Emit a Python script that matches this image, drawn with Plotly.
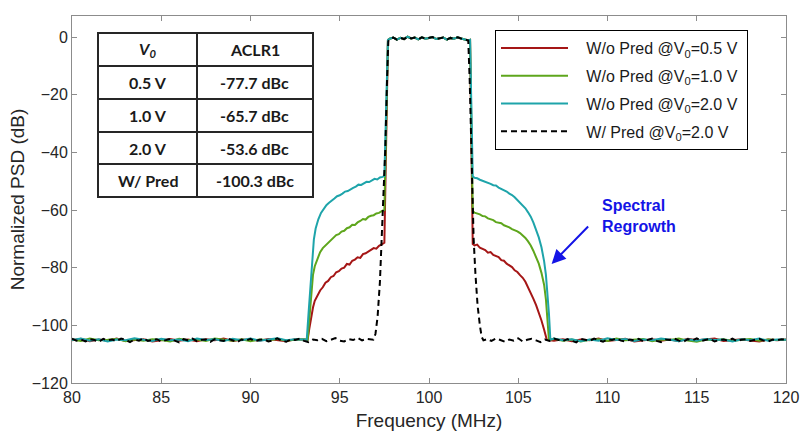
import numpy as np
import plotly.graph_objects as go

# ---------------- data ----------------
# frequency sampling grids (MHz)
F_PRED_FLOOR_L = np.arange(80.0, 96.76, 0.25)      # 68 pts
F_PRED_FLOOR_R = np.arange(103.25, 120.01, 0.25)   # 68 pts
F_BAND = np.arange(97.8, 102.21, 0.2)              # 23 pts
F_FLOOR_L = np.arange(80.0, 93.01, 0.5)            # 27 pts
F_FLOOR_R = np.arange(107.0, 120.01, 0.5)          # 27 pts

# W/ Pred (black dashed)
PRED_FLOOR_L = [-104.6,-105.3,-104.9,-105.6,-104.8,-105.1,-105.7,-104.7,-105.2,-104.9,
                -105.5,-104.6,-105.0,-105.8,-104.9,-105.3,-104.5,-105.4,-105.0,-104.8,
                -105.6,-105.1,-104.7,-105.3,-105.9,-104.8,-105.2,-104.6,-105.5,-105.0,
                -104.9,-105.7,-104.8,-105.2,-105.4,-104.6,-105.1,-105.8,-104.9,-105.3,
                -104.7,-105.5,-105.0,-104.8,-105.6,-105.2,-104.5,-105.3,-105.7,-104.9,
                -105.1,-104.6,-105.4,-105.8,-104.9,-105.2,-104.7,-105.5,-105.0,-104.4,
                -105.3,-105.6,-104.8,-105.1,-104.3,-105.2,-104.7,-104.9]
PRED_EDGE_L_F = [96.88, 97.0, 97.12, 97.25, 97.4, 97.55, 97.65, 97.72]
PRED_EDGE_L = [-105.0, -103.0, -97.0, -85.0, -62.0, -39.0, -15.0, -1.5]
PRED_BAND = [-0.6,-0.2,-0.9,-0.3,-0.7,0.1,-0.5,-0.2,-0.8,-0.1,-0.6,-0.3,
             0.0,-0.7,-0.4,-0.2,-0.9,-0.3,-0.6,-0.1,-0.5,-0.8,-1.2]
PRED_EDGE_R_F = [102.28, 102.38, 102.5, 102.6, 102.72, 102.85, 102.95, 103.05]
PRED_EDGE_R = [-15.0, -39.0, -70.0, -82.0, -93.0, -100.0, -104.0, -105.2]
PRED_FLOOR_R = [-104.8,-105.4,-104.6,-105.1,-105.7,-104.9,-105.3,-104.5,-105.6,-105.0,
                -104.7,-105.2,-105.8,-104.9,-105.4,-104.6,-105.1,-105.5,-104.8,-105.3,
                -105.9,-104.7,-105.0,-105.4,-104.6,-105.2,-105.7,-104.8,-105.1,-104.5,
                -105.3,-105.6,-104.9,-105.2,-104.7,-105.5,-105.0,-104.6,-105.4,-105.8,
                -104.9,-105.1,-104.6,-105.3,-105.7,-104.8,-105.2,-104.5,-105.4,-105.0,
                -104.7,-105.6,-105.1,-104.9,-105.3,-104.6,-105.5,-105.0,-104.8,-105.4,
                -105.1,-104.7,-105.3,-105.6,-104.9,-105.2,-104.8,-105.0]

# W/o Pred @V0=0.5 V (red)
RED_FLOOR_L = [-105.2,-104.7,-105.5,-104.9,-105.3,-104.6,-105.4,-105.0,-104.8,-105.6,
               -105.1,-104.7,-105.3,-104.9,-105.5,-104.8,-105.2,-104.6,-105.4,-105.0,
               -104.9,-105.3,-104.7,-105.1,-105.5,-104.8,-105.1]
RED_SKIRT_L_F = [93.2,93.3,93.4,93.5,93.6,93.75,93.9,94.05,94.2,94.35,94.5,94.65,94.8,94.95,
                 95.1,95.25,95.4,95.55,95.7,95.85,96.0,96.15,96.3,96.45,96.6,96.75,96.9,
                 97.05,97.2,97.35,97.5]
RED_SKIRT_L = [-105.0,-101.0,-96.5,-93.8,-91.5,-89.8,-87.9,-86.8,-85.2,-84.6,-83.3,-82.9,
               -81.6,-81.2,-80.3,-80.0,-78.7,-78.9,-77.6,-77.2,-76.4,-76.6,-75.3,-75.0,
               -74.4,-74.1,-73.2,-73.4,-72.4,-71.9,-71.3]
RED_SKIRT_R_F = [102.45,102.55,102.7,102.85,103.0,103.15,103.3,103.45,103.6,103.75,103.9,
                 104.05,104.2,104.35,104.5,104.65,104.8,104.95,105.1,105.25,105.4,105.55,
                 105.7,105.85,106.0,106.15,106.3,106.45,106.6]
RED_SKIRT_R = [-71.8,-72.3,-72.0,-73.1,-73.6,-73.9,-74.8,-74.6,-75.6,-76.0,-76.3,-77.4,
               -77.6,-78.6,-79.2,-79.8,-80.9,-81.5,-82.6,-83.5,-84.9,-86.7,-88.6,-90.8,
               -93.0,-95.5,-98.3,-101.5,-105.0]
RED_FLOOR_R = [-105.3,-104.8,-105.5,-104.9,-105.2,-104.6,-105.4,-105.0,-104.7,-105.6,
               -105.1,-104.8,-105.3,-104.9,-105.5,-104.7,-105.2,-105.0,-104.6,-105.4,
               -105.1,-104.8,-105.3,-105.6,-104.9,-105.2,-104.9]

# W/o Pred @V0=1.0 V (green)
GRN_FLOOR_L = [-104.9,-105.4,-104.6,-105.2,-105.0,-104.7,-105.5,-104.9,-105.3,-104.8,
               -105.1,-105.6,-104.7,-105.2,-104.9,-105.4,-104.6,-105.0,-105.3,-104.8,
               -105.5,-104.9,-105.2,-104.7,-105.3,-105.0,-104.8]
GRN_SKIRT_L_F = [93.2,93.3,93.4,93.5,93.6,93.75,93.9,94.05,94.2,94.35,94.5,94.65,94.8,94.95,
                 95.1,95.25,95.4,95.55,95.7,95.85,96.0,96.15,96.3,96.45,96.6,96.75,96.9,
                 97.05,97.2,97.35,97.5]
GRN_SKIRT_L = [-105.0,-97.0,-88.0,-82.5,-79.5,-76.8,-74.6,-73.2,-72.3,-71.1,-70.2,-69.6,
               -68.7,-68.4,-67.5,-67.2,-66.3,-66.0,-65.1,-65.2,-64.3,-63.8,-63.1,-63.3,
               -62.4,-62.0,-61.8,-61.2,-61.0,-60.4,-60.0]
GRN_SKIRT_R_F = [102.45,102.55,102.7,102.85,103.0,103.15,103.3,103.45,103.6,103.75,103.9,
                 104.05,104.2,104.35,104.5,104.65,104.8,104.95,105.1,105.25,105.4,105.55,
                 105.7,105.85,106.0,106.15,106.3,106.45,106.55,106.65,106.72]
GRN_SKIRT_R = [-60.3,-60.9,-61.2,-61.5,-62.1,-62.2,-62.9,-63.3,-63.5,-64.2,-64.4,-64.6,
               -65.3,-65.6,-66.0,-66.6,-66.9,-67.4,-68.0,-68.8,-69.7,-70.9,-72.3,-74.2,
               -76.2,-78.6,-81.8,-86.0,-91.0,-98.0,-105.0]
GRN_FLOOR_R = [-104.7,-105.3,-104.9,-105.6,-105.0,-104.8,-105.4,-104.6,-105.2,-105.0,
               -104.7,-105.5,-104.9,-105.1,-104.6,-105.3,-105.7,-104.9,-105.2,-104.8,
               -105.4,-105.0,-104.7,-105.3,-104.9,-105.1,-105.0]

# W/o Pred @V0=2.0 V (cyan)
CYN_FLOOR_L = [-105.1,-104.6,-105.3,-104.8,-105.6,-104.9,-105.2,-104.5,-105.0,-105.4,
               -104.7,-105.2,-104.9,-105.5,-104.6,-105.1,-104.8,-105.4,-104.7,-105.2,
               -104.6,-105.3,-104.9,-104.5,-105.2,-104.8,-104.9]
CYN_SKIRT_L_F = [93.15,93.25,93.35,93.45,93.55,93.65,93.8,93.95,94.1,94.25,94.4,94.55,94.7,
                 94.85,95.0,95.15,95.3,95.45,95.6,95.75,95.9,96.05,96.2,96.35,96.5,96.65,
                 96.8,96.95,97.1,97.25,97.4,97.5]
CYN_SKIRT_L = [-105.0,-96.0,-86.0,-76.5,-70.2,-66.4,-63.2,-61.0,-59.6,-58.3,-57.5,-56.6,
               -56.0,-55.2,-54.9,-54.3,-53.6,-53.4,-52.7,-52.3,-51.9,-51.2,-51.3,-50.6,
               -50.2,-50.3,-49.6,-49.2,-49.4,-48.7,-48.5,-48.2]
CYN_SKIRT_R_F = [102.45,102.55,102.7,102.85,103.0,103.15,103.3,103.45,103.6,103.75,103.9,
                 104.05,104.2,104.35,104.5,104.65,104.8,104.95,105.1,105.25,105.4,105.55,
                 105.7,105.85,106.0,106.15,106.3,106.45,106.55,106.65,106.72,106.8]
CYN_SKIRT_R = [-48.3,-48.8,-49.0,-49.5,-49.8,-50.3,-50.5,-50.9,-51.4,-51.5,-52.2,-52.6,
               -53.0,-53.6,-54.3,-54.8,-55.6,-56.5,-57.3,-58.3,-59.4,-60.8,-62.3,-64.4,
               -66.8,-69.5,-72.9,-77.8,-82.5,-89.0,-96.0,-105.0]
CYN_FLOOR_R = [-104.6,-105.2,-104.8,-105.5,-104.9,-105.3,-104.5,-105.1,-104.7,-105.4,
               -104.9,-105.2,-104.6,-105.0,-105.5,-104.8,-105.3,-104.7,-105.1,-104.9,
               -105.6,-104.8,-105.2,-104.6,-105.3,-104.9,-105.0]

SERIES_NAMES = ["W/o Pred @V<sub>0</sub>=0.5 V", "W/o Pred @V<sub>0</sub>=1.0 V",
                "W/o Pred @V<sub>0</sub>=2.0 V", "W/ Pred @V<sub>0</sub>=2.0 V"]
SERIES_COLORS = ["#a51616", "#5ea61c", "#1ea4aa", "#000000"]

TABLE_HEAD = ["<i>V</i><sub><i>0</i></sub>", "ACLR1"]
TABLE_V = ["0.5 V", "1.0 V", "2.0 V", "W/ Pred"]
TABLE_ACLR = ["-77.7 dBc", "-65.7 dBc", "-53.6 dBc", "-100.3 dBc"]

X_TICKS = [80, 85, 90, 95, 100, 105, 110, 115, 120]
Y_TICKS = [-120, -100, -80, -60, -40, -20, 0]


def colored(fl, skl_f, skl, skr_f, skr, fr):
    f = list(F_FLOOR_L) + skl_f + [97.7] + list(F_BAND) + [102.3] + skr_f + list(F_FLOOR_R)
    p = fl + skl + [-1.0] + PRED_BAND + [-1.0] + skr + fr
    return f, p


def legend_label(name):
    # small padding around the label so the text sits like the reference legend
    return "&nbsp;&nbsp;&nbsp;" + name + "&nbsp;"


fig = go.Figure()
col_series = [
    colored(RED_FLOOR_L, RED_SKIRT_L_F, RED_SKIRT_L, RED_SKIRT_R_F, RED_SKIRT_R, RED_FLOOR_R),
    colored(GRN_FLOOR_L, GRN_SKIRT_L_F, GRN_SKIRT_L, GRN_SKIRT_R_F, GRN_SKIRT_R, GRN_FLOOR_R),
    colored(CYN_FLOOR_L, CYN_SKIRT_L_F, CYN_SKIRT_L, CYN_SKIRT_R_F, CYN_SKIRT_R, CYN_FLOOR_R),
]
for i, (f, p) in enumerate(col_series):
    fig.add_trace(go.Scatter(x=f, y=p, mode="lines", name=legend_label(SERIES_NAMES[i]),
                             legendgroup=str(i),
                             line=dict(color=SERIES_COLORS[i], width=2)))

pred_f = list(F_PRED_FLOOR_L) + PRED_EDGE_L_F + list(F_BAND) + PRED_EDGE_R_F + list(F_PRED_FLOOR_R)
pred_p = PRED_FLOOR_L + PRED_EDGE_L + PRED_BAND + PRED_EDGE_R + PRED_FLOOR_R
fig.add_trace(go.Scatter(x=pred_f, y=pred_p, mode="lines", name=legend_label(SERIES_NAMES[3]),
                         legendgroup="3",
                         line=dict(color=SERIES_COLORS[3], width=2, dash="6px,4px")))

# ---------------- layout ----------------
L, R, T, B = 72, 786, 16, 383
W, H = 807, 436


def px(x):
    return (x - L) / (R - L)


def py(y):
    return (B - y) / (B - T)


axis_common = dict(showline=True, linecolor="#8c8c8c", linewidth=1, mirror="ticks",
                   ticks="inside", ticklen=5, tickcolor="#8c8c8c", showgrid=False,
                   zeroline=False, tickfont=dict(family="Liberation Sans, Arial", size=16,
                                                 color="#262626"))

fig.update_layout(
    width=W, height=H,
    margin=dict(l=L, r=W - R, t=T, b=H - B, autoexpand=False),
    paper_bgcolor="white", plot_bgcolor="white",
    font=dict(family="Liberation Sans, Arial", size=16, color="#262626"),
    xaxis=dict(range=[80, 120], tickvals=X_TICKS,
               title=dict(text="Frequency (MHz)", standoff=8), **axis_common),
    yaxis=dict(range=[-120, 7.3], tickvals=Y_TICKS,
               title=dict(text="Normalized PSD (dB)", standoff=2), **axis_common),
    legend=dict(x=px(495), y=py(30), xanchor="left", yanchor="top",
                bgcolor="white", bordercolor="#000000", borderwidth=1,
                font=dict(family="Liberation Sans, Arial", size=16, color="#1a1a1a"),
                itemwidth=67, tracegroupgap=4, traceorder="grouped"),
    showlegend=True,
)

# table
TL, TR, TT, TB, TC = 98, 313, 33, 197, 197
ROWS = [33, 66, 99, 132, 164, 197]
shapes = [dict(type="rect", xref="paper", yref="paper", x0=px(TL), x1=px(TR), y0=py(TB), y1=py(TT),
               line=dict(color="#262626", width=2), fillcolor="white", layer="above"),
          dict(type="line", xref="paper", yref="paper", x0=px(TC), x1=px(TC), y0=py(TB), y1=py(TT),
               line=dict(color="#262626", width=2), layer="above")]
for r in ROWS[1:-1]:
    shapes.append(dict(type="line", xref="paper", yref="paper", x0=px(TL), x1=px(TR),
                       y0=py(r), y1=py(r), line=dict(color="#262626", width=2), layer="above"))
fig.update_layout(shapes=shapes)

annos = []
c1, c2 = (TL + TC) / 2, (TC + TR) / 2
rows_text = [TABLE_HEAD] + [[a, b] for a, b in zip(TABLE_V, TABLE_ACLR)]
for k, (a, b) in enumerate(rows_text):
    yc = (ROWS[k] + ROWS[k + 1]) / 2
    for xc, t in ((c1, a), (c2, b)):
        annos.append(dict(x=px(xc), y=py(yc), xref="paper", yref="paper", text="<b>" + t + "</b>",
                          showarrow=False, xanchor="center", yanchor="middle",
                          font=dict(family="Lato, Carlito, sans-serif", size=16, color="#1a1a1a")))

# Spectral regrowth annotation (arrow + text)
annos.append(dict(x=106.87, y=-78.7, xref="x", yref="y", ax=40, ay=-41, axref="pixel", ayref="pixel",
                  text=" ", showarrow=True, arrowhead=2, arrowsize=1.4, arrowwidth=2,
                  arrowcolor="#1414e6"))
annos.append(dict(x=px(600), y=py(216), xref="paper", yref="paper",
                  text="<b>Spectral<br>Regrowth</b>", showarrow=False, align="left",
                  xanchor="left", yanchor="middle",
                  font=dict(family="Liberation Sans, Arial", size=16, color="#1414e6")))
fig.update_layout(annotations=annos)

fig.write_html("out.html")
